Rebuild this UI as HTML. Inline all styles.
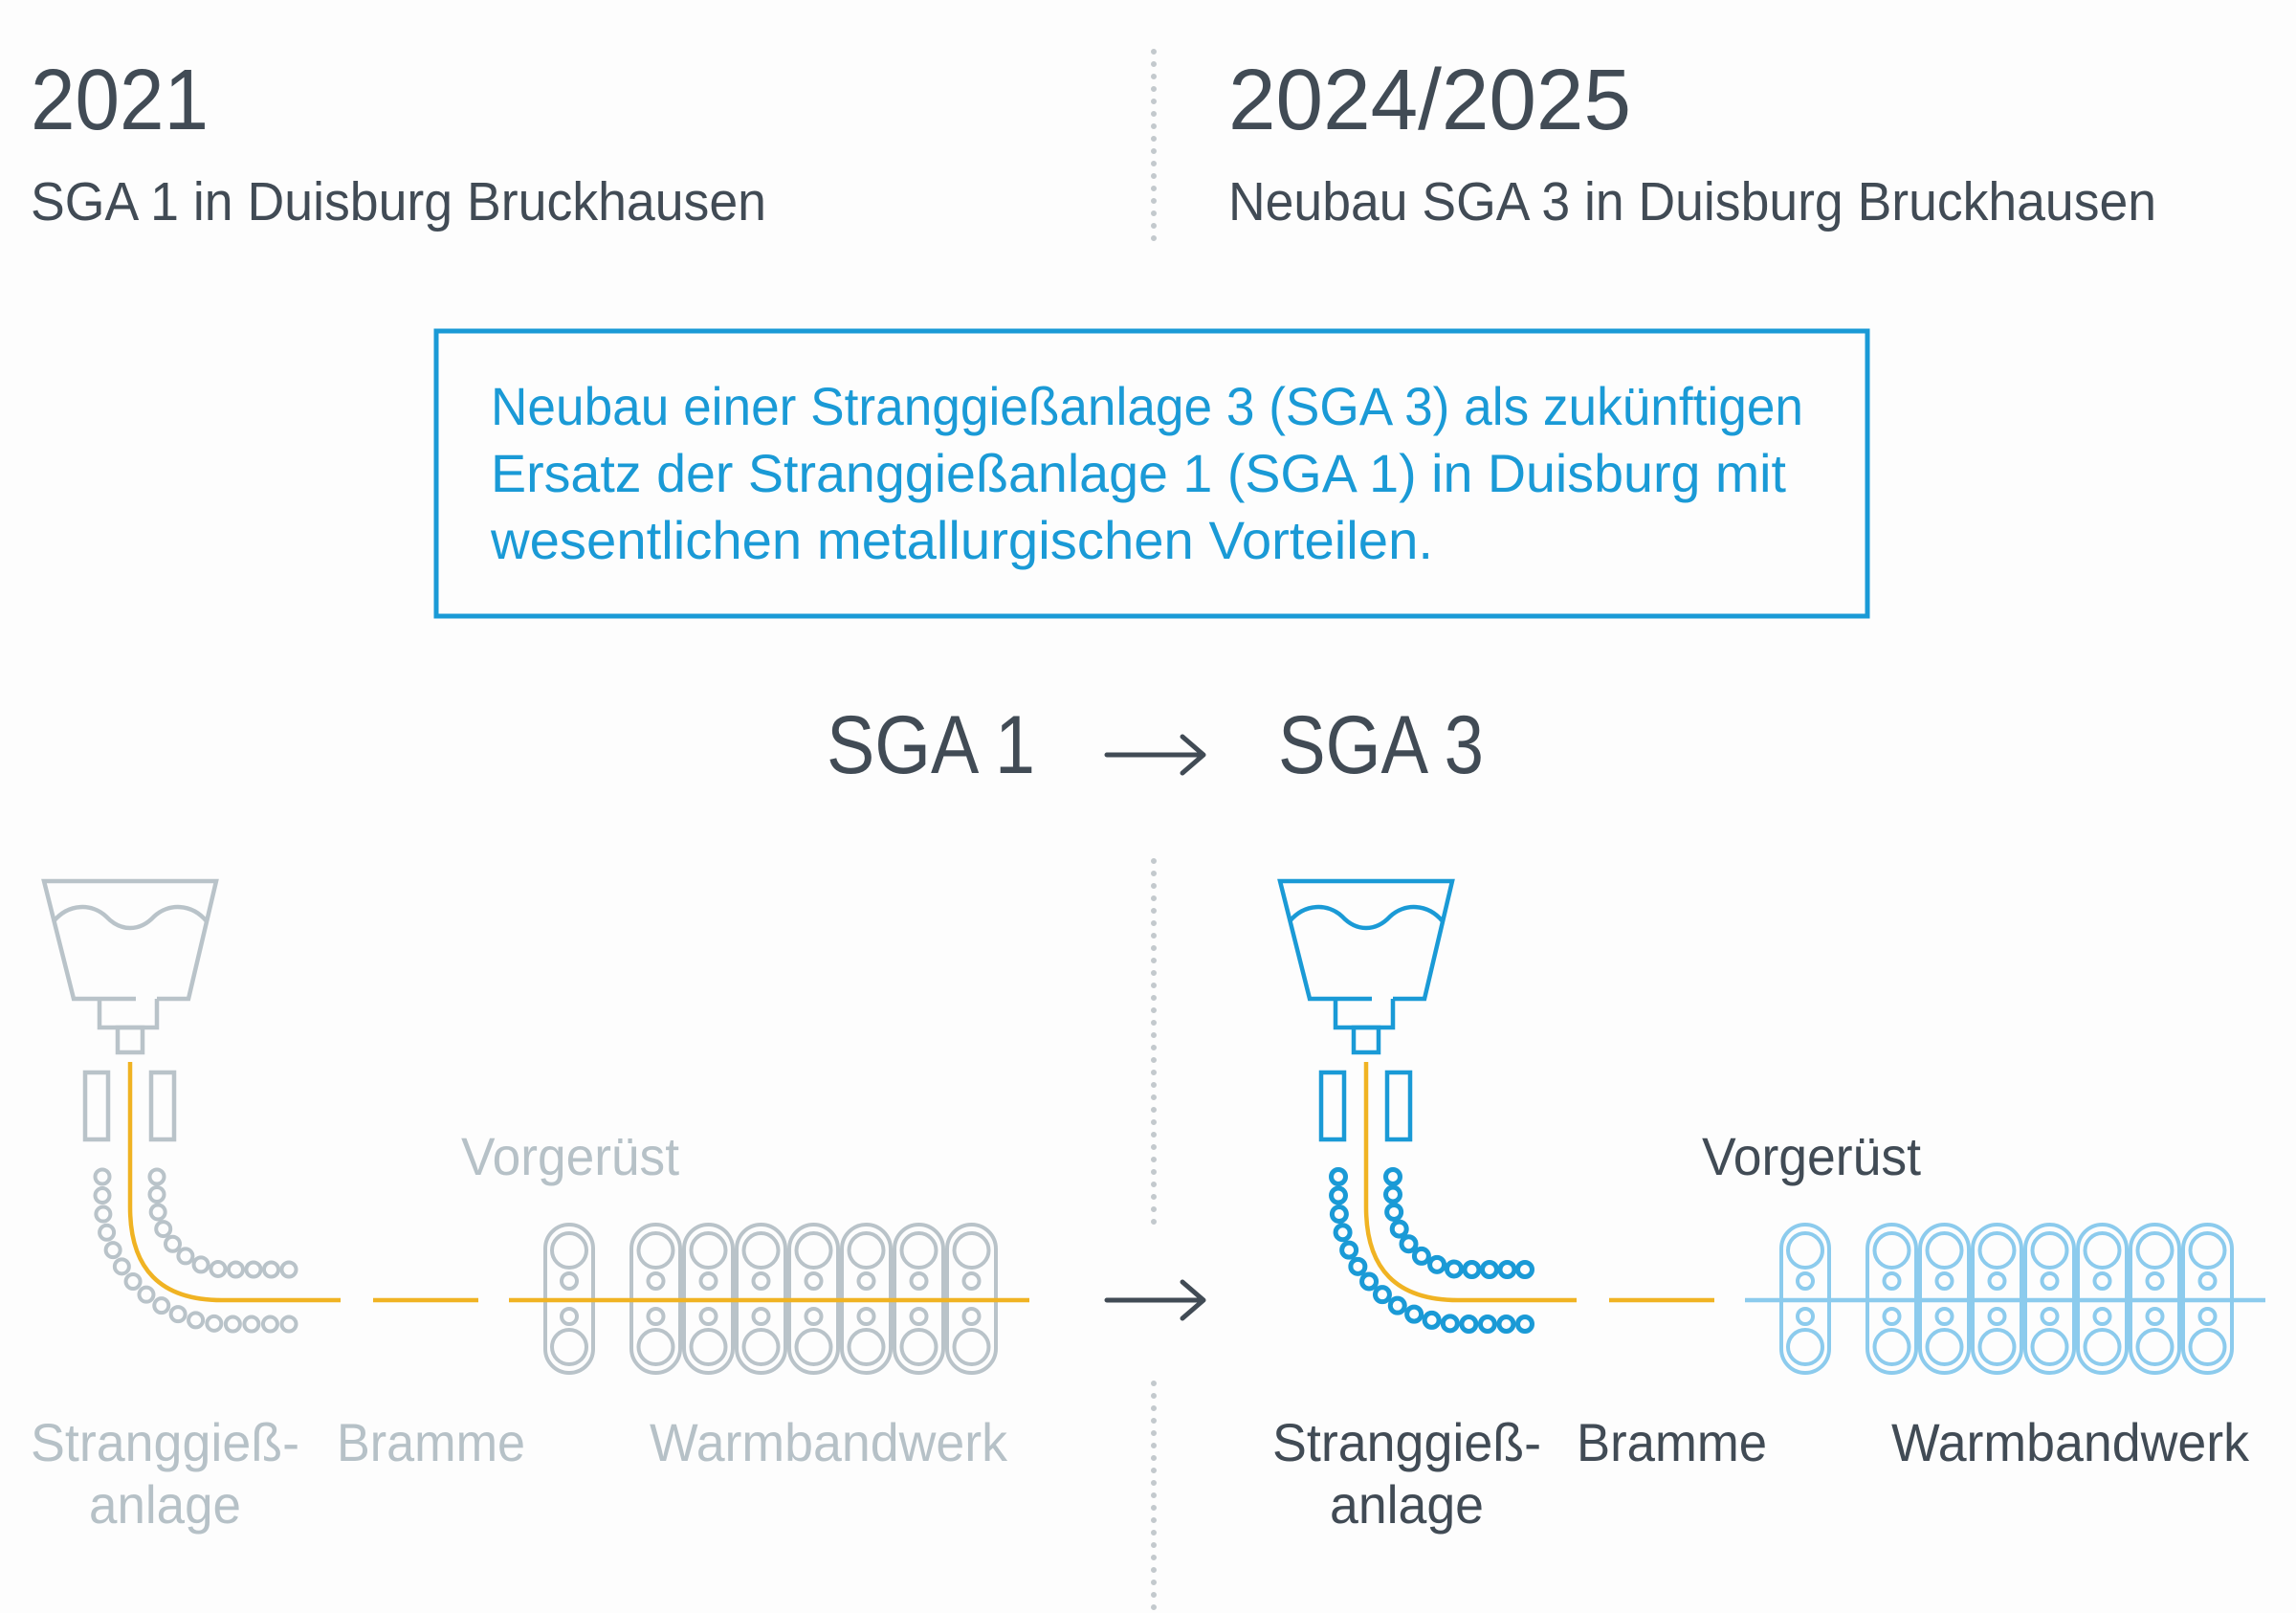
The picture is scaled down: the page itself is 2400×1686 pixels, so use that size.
<!DOCTYPE html>
<html><head><meta charset="utf-8"><style>
html,body{margin:0;padding:0;background:#fdfdfd;}
svg{display:block;}
text{font-family:"Liberation Sans Narrow","Liberation Sans",sans-serif;}
</style></head><body>
<svg id="s" width="2400" height="1686" viewBox="0 0 2400 1686" xmlns="http://www.w3.org/2000/svg">
<rect width="2400" height="1686" fill="#fdfdfd"/>
<g stroke="#c3c9cd" stroke-width="6" stroke-linecap="round" stroke-dasharray="0 13">
<line x1="1206" y1="54" x2="1206" y2="254"/>
<line x1="1206" y1="900" x2="1206" y2="1280"/>
<line x1="1206" y1="1446" x2="1206" y2="1686"/>
</g>
<g fill="#414b55">
<text x="32" y="135" font-size="90" textLength="186" lengthAdjust="spacingAndGlyphs">2021</text>
<text x="32" y="230" font-size="57" textLength="769" lengthAdjust="spacingAndGlyphs">SGA 1 in Duisburg Bruckhausen</text>
<text x="1284" y="135" font-size="90" textLength="421" lengthAdjust="spacingAndGlyphs">2024/2025</text>
<text x="1284" y="230" font-size="57" textLength="970" lengthAdjust="spacingAndGlyphs">Neubau SGA 3 in Duisburg Bruckhausen</text>
</g>
<rect x="456" y="346" width="1496" height="298" fill="none" stroke="#1a9ad6" stroke-width="5"/>
<g fill="#1a9ad6" font-size="56">
<text x="513" y="444" textLength="1372" lengthAdjust="spacingAndGlyphs">Neubau einer Stranggießanlage 3 (SGA 3) als zukünftigen</text>
<text x="513" y="514" textLength="1354" lengthAdjust="spacingAndGlyphs">Ersatz der Stranggießanlage 1 (SGA 1) in Duisburg mit</text>
<text x="513" y="584" textLength="985" lengthAdjust="spacingAndGlyphs">wesentlichen metallurgischen Vorteilen.</text>
</g>
<g fill="#414b55" font-size="86">
<text x="864" y="808" textLength="218" lengthAdjust="spacingAndGlyphs">SGA 1</text>
<text x="1336" y="808" textLength="215" lengthAdjust="spacingAndGlyphs">SGA 3</text>
</g>
<g stroke="#414b55" stroke-width="5" fill="none" stroke-linecap="round" stroke-linejoin="round">
<path d="M1157 789H1258M1236 770L1258 789L1236 808"/>
<path d="M1157 1359H1258M1236 1340L1258 1359L1236 1378"/>
</g>
<g id="left"></g>
<g id="right" transform="translate(1292,0)"></g>
<g fill="#b6c1c7" font-size="56">
<text x="482" y="1228" textLength="228" lengthAdjust="spacingAndGlyphs">Vorgerüst</text>
<text x="32" y="1527" textLength="281" lengthAdjust="spacingAndGlyphs">Stranggieß-</text>
<text x="93" y="1592" textLength="159" lengthAdjust="spacingAndGlyphs">anlage</text>
<text x="352" y="1527" textLength="197" lengthAdjust="spacingAndGlyphs">Bramme</text>
<text x="679" y="1527" textLength="374" lengthAdjust="spacingAndGlyphs">Warmbandwerk</text>
</g>
<g fill="#414b55" font-size="56">
<text x="1779" y="1228" textLength="229" lengthAdjust="spacingAndGlyphs">Vorgerüst</text>
<text x="1330" y="1527" textLength="281" lengthAdjust="spacingAndGlyphs">Stranggieß-</text>
<text x="1390" y="1592" textLength="161" lengthAdjust="spacingAndGlyphs">anlage</text>
<text x="1648" y="1527" textLength="199" lengthAdjust="spacingAndGlyphs">Bramme</text>
<text x="1977" y="1527" textLength="374" lengthAdjust="spacingAndGlyphs">Warmbandwerk</text>
</g>
</svg>
<script>
var NS="http://www.w3.org/2000/svg";
function el(p,t,a){var e=document.createElementNS(NS,t);for(var k in a)e.setAttribute(k,a[k]);p.appendChild(e);return e;}
function pathPts(x0,y0,vyEnd,r,xEnd,step){
 var pts=[];var L1=vyEnd-y0,L2=Math.PI*r/2,L3=xEnd-(x0+r);var tot=L1+L2+L3;
 var n=Math.round(tot/step);var st=tot/n;
 for(var i=0;i<=n;i++){var d=i*st,x,y;
  if(d<=L1){x=x0;y=y0+d;}
  else if(d<=L1+L2){var a=(d-L1)/r;x=x0+r-r*Math.cos(a);y=vyEnd+r*Math.sin(a);}
  else{x=x0+r+(d-L1-L2);y=vyEnd+r;}
  pts.push([x,y]);}
 return pts;}
function draw(g,c,rollC,rollW,standC,lastLineC){
 var s={fill:"none",stroke:c,"stroke-width":4.5,"stroke-linejoin":"miter"};
 el(g,"path",Object.assign({d:"M142 1044H77L46 921H226L197 1044H164"},s));
 el(g,"path",Object.assign({d:"M56 963C72 944 96 944 111 958C126 974 146 974 161 958C176 944 200 944 216 963"},s));
 el(g,"path",Object.assign({d:"M104 1044V1074H164V1044"},s));
 el(g,"rect",Object.assign({x:123,y:1074,width:26,height:26},s));
 el(g,"rect",Object.assign({x:89,y:1121,width:24,height:70},s));
 el(g,"rect",Object.assign({x:158,y:1121,width:24,height:70},s));
 var inner=pathPts(164,1230,1254,73,302,19), outer=pathPts(107,1230,1254,130,302,19);
 inner.concat(outer).forEach(function(p){el(g,"circle",{cx:p[0],cy:p[1],r:7.5,fill:"none",stroke:rollC,"stroke-width":rollW});});
 el(g,"path",{d:"M136 1110V1262Q136 1359 232 1359H356",fill:"none",stroke:"#f0b323","stroke-width":4.5});
 el(g,"line",{x1:390,y1:1359,x2:500,y2:1359,stroke:"#f0b323","stroke-width":4.5});
 function stand(x,w){var sa={fill:"none",stroke:standC,"stroke-width":4};
  el(g,"rect",Object.assign({x:x+2,y:1280,width:w-4,height:155,rx:(w-4)/2},sa));
  var cx=x+w/2;
  el(g,"circle",Object.assign({cx:cx,cy:1307,r:18},sa));
  el(g,"circle",Object.assign({cx:cx,cy:1339,r:8},sa));
  el(g,"circle",Object.assign({cx:cx,cy:1376,r:8},sa));
  el(g,"circle",Object.assign({cx:cx,cy:1408,r:18},sa));}
 stand(568,54);
 for(var i=0;i<7;i++)stand(658+i*55,55);
 el(g,"line",{x1:532,y1:1359,x2:1076,y2:1359,stroke:lastLineC,"stroke-width":4.5});
}
draw(document.getElementById("left"),"#b9c3c9","#b9c3c9",4,"#b9c3c9","#f0b323");
draw(document.getElementById("right"),"#1a9ad6","#1a9ad6",5,"#8ccbed","#8ccbed");
</script>
</body></html>
